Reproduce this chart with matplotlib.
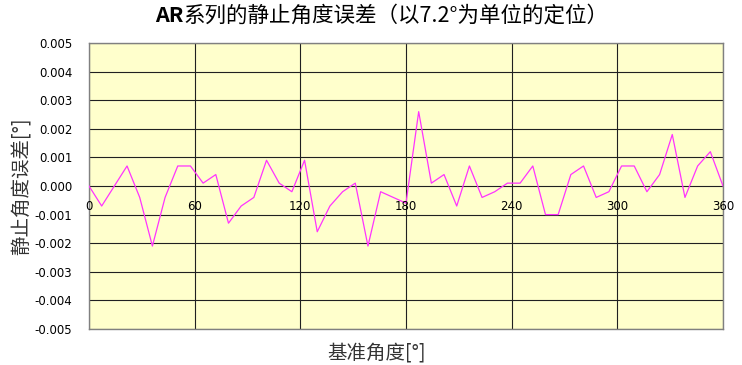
import numpy as np
import matplotlib
matplotlib.use('Agg')
import matplotlib.pyplot as plt

plt.rcParams['font.family'] = ['Noto Sans CJK SC', 'DejaVu Sans']
plt.rcParams['axes.unicode_minus'] = False

# data (positioning every 7.2 deg)
angle_deg = np.arange(51) * 7.2
error_deg = [
    0.0000, -0.0007, 0.0000, 0.0007, -0.0004, -0.0021, -0.0004, 0.0007, 0.0007, 0.0001,
    0.0004, -0.0013, -0.0007, -0.0004, 0.0009, 0.0001, -0.0002, 0.0009, -0.0016, -0.0007,
    -0.0002, 0.0001, -0.0021, -0.0002, -0.0004, -0.0006, 0.0026, 0.0001, 0.0004, -0.0007,
    0.0007, -0.0004, -0.0002, 0.0001, 0.0001, 0.0007, -0.0010, -0.0010, 0.0004, 0.0007,
    -0.0004, -0.0002, 0.0007, 0.0007, -0.0002, 0.0004, 0.0018, -0.0004, 0.0007, 0.0012,
    0.0000,
]
xticks = [0, 60, 120, 180, 240, 300, 360]
yticks = np.round(np.arange(-0.005, 0.0051, 0.001), 3)

title_bold = 'AR'
title_rest = '系列的静止角度误差（以7.2°为单位的定位）'
xlabel = '基准角度[°]'
ylabel = '静止角度误差[°]'

fig = plt.figure(figsize=(7.42, 3.65), dpi=100)
ax = fig.add_axes([89/742, 1-329/365, (723-89)/742, (329-43)/365])
ax.set_facecolor('#FFFFCC')

ax.plot(angle_deg, error_deg, color='#FF33FF', lw=0.9, zorder=3)

ax.set_xlim(0, 360)
ax.set_ylim(-0.005, 0.005)
ax.set_xticks(xticks)
ax.set_yticks(yticks)
ax.set_yticklabels([f'{v:.3f}' for v in yticks], fontsize=8.5, family='DejaVu Sans')
ax.tick_params(axis='y', length=0, pad=12)
ax.tick_params(axis='x', length=0, labelbottom=False)
ax.grid(True, color='#202020', lw=0.8)
ax.set_axisbelow(True)
for s in ax.spines.values():
    s.set_color('#808080')
    s.set_linewidth(1)

# x tick labels sit just under the zero line
for xv in xticks:
    ax.text(xv, -0.0005, str(xv), ha='center', va='top', fontsize=8.5,
            family='DejaVu Sans', zorder=4)

fig.text(377/742, 1-353/365, xlabel, ha='center', va='center', fontsize=14, color='#333333')
fig.text(22/742, 1-186/365, ylabel, ha='center', va='center', rotation=90, fontsize=14, color='#333333')

# title: bold "AR" followed by the rest
r = fig.canvas.get_renderer()
t1 = fig.text(155/742, 1-16/365, title_bold, ha='left', va='center', fontsize=15.5, fontweight='bold')
w = t1.get_window_extent(r).width
fig.text((155 + w)/742, 1-16/365, title_rest, ha='left', va='center', fontsize=15.5)

fig.savefig('out.png', dpi=100, facecolor='white')
